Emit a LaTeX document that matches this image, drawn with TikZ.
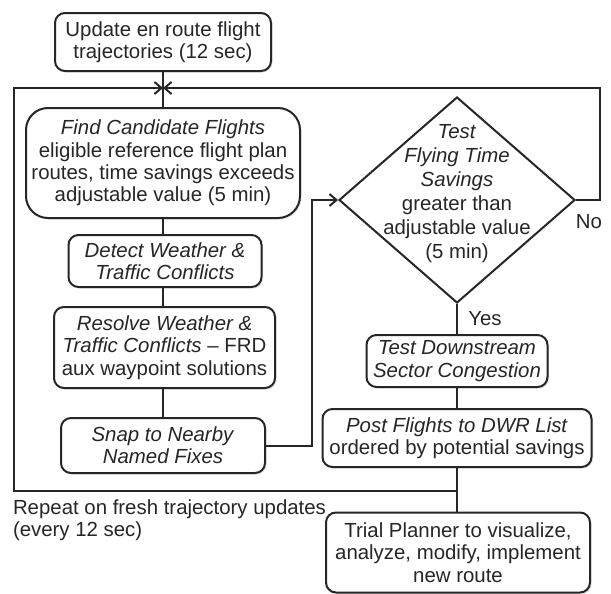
\documentclass[tikz,border=0pt]{standalone}
\usepackage{fontspec}
\setmainfont{Liberation Sans}
\usetikzlibrary{shapes.geometric,arrows.meta,shadows}

\begin{document}
\begin{tikzpicture}[x=0.5pt, y=-0.5pt, line width=1pt, color=black!85,
    font=\fontsize{10.2}{11.2}\selectfont,
    box/.style = {draw, rounded corners=5pt, align=center, inner sep=1pt,
      fill=white, drop shadow={shadow xshift=0.8pt, shadow yshift=-0.8pt,
      opacity=0.2}},
    dec/.style = {draw, diamond, minimum width=118pt, minimum height=103pt,
      inner sep=0pt, fill=white},
    arr/.style = {-{Straight Barb[length=3.5pt, width=6pt]}}]
  \useasboundingbox (0,0) rectangle (611,594);

  % left column
  \node[box, minimum width=108pt, minimum height=29pt] (upd) at (163,42)
    {Update en route flight\\ trajectories (12 sec)};
  \node[box, rounded corners=11pt, minimum width=137pt, minimum height=55pt]
    (find) at (163,163) {\textit{Find Candidate Flights}\\ eligible reference
    flight plan\\ routes, time savings exceeds\\ adjustable value (5 min)};
  \node[box, minimum width=96.5pt, minimum height=26pt] (detect) at (165,261)
    {\textit{Detect Weather \&}\\ \textit{Traffic Conflicts}};
  \node[box, minimum width=110.5pt, minimum height=40.5pt] (resolve)
    at (164.5,347.5) {\textit{Resolve Weather \&}\\ \textit{Traffic Conflicts}
    -- FRD\\ aux waypoint solutions};
  \node[box, minimum width=102pt, minimum height=27.5pt] (snap) at (163,445.5)
    {\textit{Snap to Nearby}\\ \textit{Named Fixes}};

  % right column
  \node[dec] (test) at (457,200) {};
  \node[align=center, font=\fontsize{10.2}{12}\selectfont] (testtxt)
    at (457,194) {\textit{Test}\\ \textit{Flying Time}\\ \textit{Savings}\\
    greater than\\ adjustable value\\ (5 min)};
  \node[box, minimum width=90.5pt, minimum height=26pt] (down) at (457,361)
    {\textit{Test Downstream}\\ \textit{Sector Congestion}};
  \node[box, minimum width=134.5pt, minimum height=29pt] (post) at (457,438)
    {\textit{Post Flights to DWR List}\\ ordered by potential savings};
  \node[box, minimum width=132pt, minimum height=40pt] (trial) at (458,552.5)
    {Trial Planner to visualize,\\ analyze, modify, implement\\ new route};

  \coordinate (merge) at (163,88);
  \coordinate (join) at (457,491);

  \node (no) at (589,222) {No};
  \node (yes) at (485,319) {Yes};
  \node[anchor=west, align=left, inner sep=0pt] (repeat) at (12,520)
    {Repeat on fresh trajectory updates\\ (every 12 sec)};

  \draw (upd) -- (find);
  \draw (find) -- (detect.north -| find);
  \draw (detect.south -| find) -- (resolve.north -| find);
  \draw (resolve.south -| find) -- (snap);
  \draw[arr] (snap.east) -- ++(46,0) |- (test.west);
  \draw[arr] (test.east) -- ++(24,0) |- (merge);
  \draw[arr] (join) -- ++(-443,0) |- (merge);
  \draw (test.south) -- (down);
  \draw (down) -- (post);
  \draw (post) -- (trial.north -| post);
\end{tikzpicture}
\end{document}
